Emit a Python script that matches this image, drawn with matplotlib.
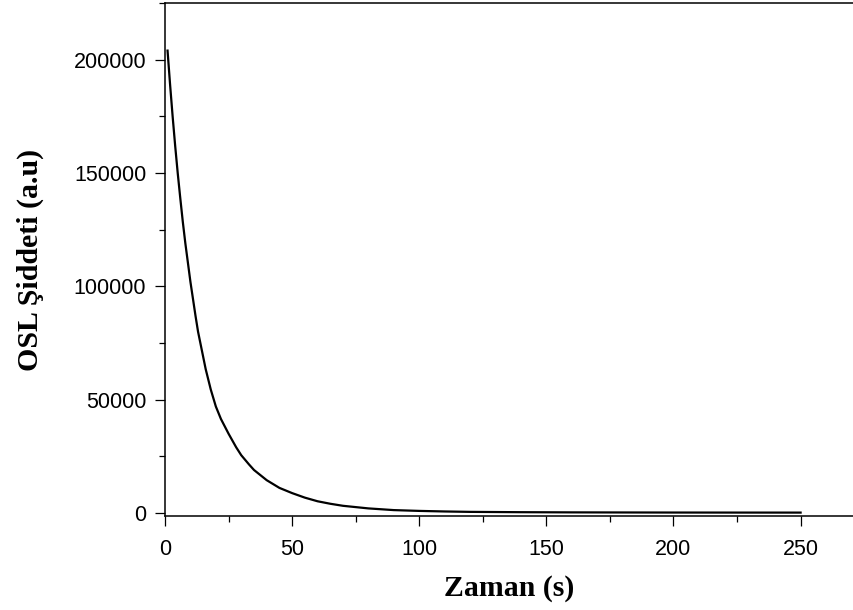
import numpy as np
import matplotlib.pyplot as plt
from matplotlib.ticker import MultipleLocator

# OSL decay curve
zaman = [1, 2, 3, 4, 5, 6, 7, 8, 9, 10, 11, 12, 13, 14, 16, 18, 20, 22,
         25, 28, 30, 33, 35, 38, 40, 45, 50, 55, 60, 65, 70, 80, 90, 100,
         110, 120, 140, 160, 180, 200, 225, 250]
siddet = [204000, 189000, 175000, 162000, 150000, 139000, 128500, 119000,
          110500, 102000, 94500, 87000, 80000, 74500, 63500, 54500, 47000,
          41500, 35000, 29000, 25500, 21500, 19000, 16300, 14500, 11100,
          8800, 6800, 5200, 4100, 3200, 2050, 1300, 950, 700, 520, 380,
          300, 260, 230, 210, 200]

x_ticks = [0, 50, 100, 150, 200, 250]
y_ticks = [0, 50000, 100000, 150000, 200000]

fig = plt.figure(figsize=(8.54, 6.10), dpi=100)
ax = fig.add_axes([165 / 854, 1 - 516 / 610, 1 - 165 / 854, 513 / 610])

ax.plot(zaman, siddet, '-', color='black', linewidth=1.6)

ax.set_xlim(0, 271)
ax.set_ylim(-1300, 225000)
ax.set_xticks(x_ticks)
ax.set_yticks(y_ticks)
ax.xaxis.set_minor_locator(MultipleLocator(25))
ax.yaxis.set_minor_locator(MultipleLocator(25000))

ax.spines['right'].set_visible(False)
for s in ['left', 'bottom', 'top']:
    ax.spines[s].set_linewidth(1.1)

ax.tick_params(which='major', direction='out', length=7.5, width=0.9,
               labelsize=15.5)
ax.tick_params(which='minor', direction='out', length=4, width=0.9)
ax.tick_params(axis='x', which='major', pad=9)
ax.tick_params(axis='y', which='major', pad=6)
for lab in ax.get_xticklabels() + ax.get_yticklabels():
    lab.set_family('Liberation Sans')

ax.set_xlabel('Zaman (s)', family='Liberation Serif', fontweight='bold',
              fontsize=21.5)
ax.set_ylabel('OSL Şiddeti (a.u)', family='Liberation Serif',
              fontweight='bold', fontsize=21.5)
ax.xaxis.set_label_coords(0.5, -0.115)
ax.yaxis.set_label_coords(-0.175, 0.5)

fig.savefig('out.png', dpi=100)
